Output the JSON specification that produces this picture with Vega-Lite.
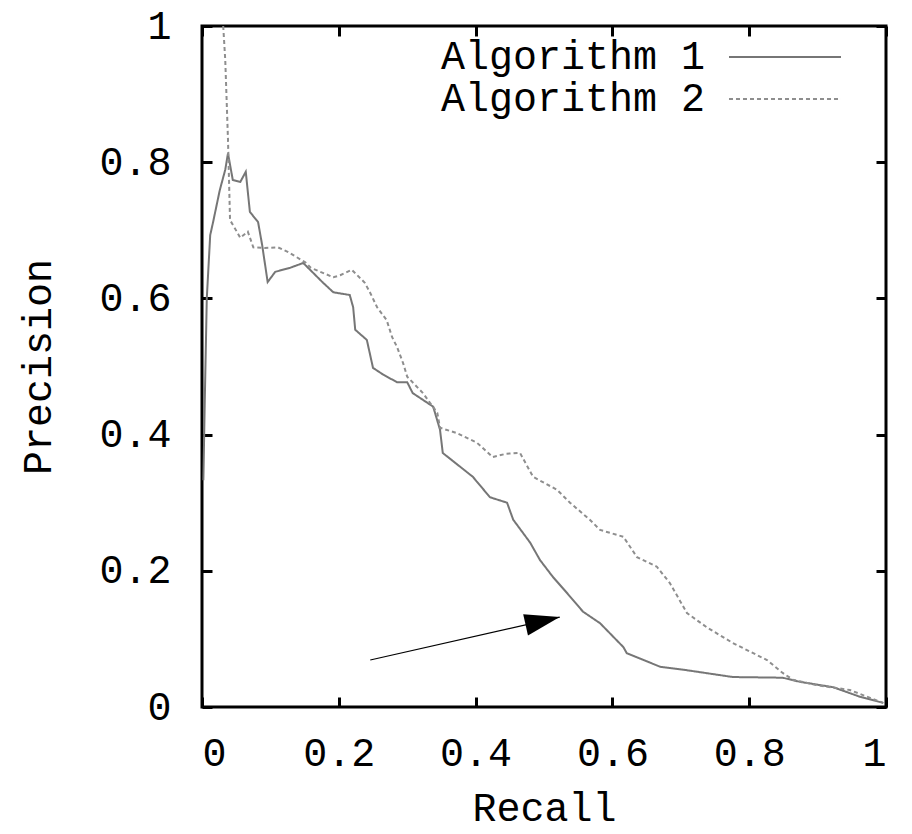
{
  "$schema": "https://vega.github.io/schema/vega-lite/v6.json",
  "width": 684,
  "height": 681,
  "autosize": {"type": "none"},
  "padding": {"left": 202, "top": 26, "right": 26, "bottom": 127},
  "background": "white",
  "config": {
    "view": {"stroke": "black", "strokeWidth": 3},
    "font": "Liberation Mono",
    "axis": {
      "domain": false,
      "grid": false,
      "ticks": true,
      "tickSize": -10,
      "tickWidth": 3,
      "tickColor": "black",
      "labelFont": "Liberation Mono",
      "labelFontSize": 40,
      "labelColor": "black",
      "titleFont": "Liberation Mono",
      "titleFontSize": 40,
      "titleFontWeight": "normal",
      "titleColor": "black"
    },
    "legend": {
      "orient": "none",
      "legendX": 563,
      "legendY": 11,
      "padding": 0,
      "title": null,
      "symbolType": "M -3 0 L 3 0",
      "symbolSize": 1394,
      "symbolStrokeWidth": 2,
      "labelFont": "Liberation Mono",
      "labelFontSize": 40,
      "labelColor": "black",
      "labelAlign": "right",
      "labelOffset": -100,
      "labelLimit": 0,
      "rowPadding": 2
    }
  },
  "datasets": {
    "curves": [
      {"recall": 0.002, "precision": 0.333, "algorithm": "Algorithm 1"},
      {"recall": 0.004, "precision": 0.446, "algorithm": "Algorithm 1"},
      {"recall": 0.007, "precision": 0.600, "algorithm": "Algorithm 1"},
      {"recall": 0.012, "precision": 0.693, "algorithm": "Algorithm 1"},
      {"recall": 0.016, "precision": 0.711, "algorithm": "Algorithm 1"},
      {"recall": 0.026, "precision": 0.759, "algorithm": "Algorithm 1"},
      {"recall": 0.034, "precision": 0.789, "algorithm": "Algorithm 1"},
      {"recall": 0.038, "precision": 0.813, "algorithm": "Algorithm 1"},
      {"recall": 0.045, "precision": 0.774, "algorithm": "Algorithm 1"},
      {"recall": 0.056, "precision": 0.771, "algorithm": "Algorithm 1"},
      {"recall": 0.064, "precision": 0.786, "algorithm": "Algorithm 1"},
      {"recall": 0.070, "precision": 0.727, "algorithm": "Algorithm 1"},
      {"recall": 0.082, "precision": 0.712, "algorithm": "Algorithm 1"},
      {"recall": 0.088, "precision": 0.678, "algorithm": "Algorithm 1"},
      {"recall": 0.096, "precision": 0.624, "algorithm": "Algorithm 1"},
      {"recall": 0.107, "precision": 0.639, "algorithm": "Algorithm 1"},
      {"recall": 0.129, "precision": 0.645, "algorithm": "Algorithm 1"},
      {"recall": 0.148, "precision": 0.652, "algorithm": "Algorithm 1"},
      {"recall": 0.177, "precision": 0.623, "algorithm": "Algorithm 1"},
      {"recall": 0.192, "precision": 0.609, "algorithm": "Algorithm 1"},
      {"recall": 0.216, "precision": 0.605, "algorithm": "Algorithm 1"},
      {"recall": 0.221, "precision": 0.587, "algorithm": "Algorithm 1"},
      {"recall": 0.224, "precision": 0.554, "algorithm": "Algorithm 1"},
      {"recall": 0.241, "precision": 0.539, "algorithm": "Algorithm 1"},
      {"recall": 0.250, "precision": 0.498, "algorithm": "Algorithm 1"},
      {"recall": 0.265, "precision": 0.488, "algorithm": "Algorithm 1"},
      {"recall": 0.285, "precision": 0.477, "algorithm": "Algorithm 1"},
      {"recall": 0.300, "precision": 0.477, "algorithm": "Algorithm 1"},
      {"recall": 0.308, "precision": 0.461, "algorithm": "Algorithm 1"},
      {"recall": 0.338, "precision": 0.441, "algorithm": "Algorithm 1"},
      {"recall": 0.348, "precision": 0.407, "algorithm": "Algorithm 1"},
      {"recall": 0.352, "precision": 0.373, "algorithm": "Algorithm 1"},
      {"recall": 0.396, "precision": 0.338, "algorithm": "Algorithm 1"},
      {"recall": 0.421, "precision": 0.308, "algorithm": "Algorithm 1"},
      {"recall": 0.446, "precision": 0.300, "algorithm": "Algorithm 1"},
      {"recall": 0.455, "precision": 0.275, "algorithm": "Algorithm 1"},
      {"recall": 0.469, "precision": 0.256, "algorithm": "Algorithm 1"},
      {"recall": 0.480, "precision": 0.241, "algorithm": "Algorithm 1"},
      {"recall": 0.494, "precision": 0.216, "algorithm": "Algorithm 1"},
      {"recall": 0.513, "precision": 0.191, "algorithm": "Algorithm 1"},
      {"recall": 0.534, "precision": 0.167, "algorithm": "Algorithm 1"},
      {"recall": 0.557, "precision": 0.140, "algorithm": "Algorithm 1"},
      {"recall": 0.582, "precision": 0.123, "algorithm": "Algorithm 1"},
      {"recall": 0.616, "precision": 0.088, "algorithm": "Algorithm 1"},
      {"recall": 0.621, "precision": 0.079, "algorithm": "Algorithm 1"},
      {"recall": 0.670, "precision": 0.059, "algorithm": "Algorithm 1"},
      {"recall": 0.709, "precision": 0.054, "algorithm": "Algorithm 1"},
      {"recall": 0.776, "precision": 0.044, "algorithm": "Algorithm 1"},
      {"recall": 0.849, "precision": 0.043, "algorithm": "Algorithm 1"},
      {"recall": 0.874, "precision": 0.037, "algorithm": "Algorithm 1"},
      {"recall": 0.923, "precision": 0.029, "algorithm": "Algorithm 1"},
      {"recall": 0.962, "precision": 0.015, "algorithm": "Algorithm 1"},
      {"recall": 0.996, "precision": 0.006, "algorithm": "Algorithm 1"},
      {"recall": 0.031, "precision": 1.000, "algorithm": "Algorithm 2"},
      {"recall": 0.034, "precision": 0.950, "algorithm": "Algorithm 2"},
      {"recall": 0.038, "precision": 0.833, "algorithm": "Algorithm 2"},
      {"recall": 0.041, "precision": 0.715, "algorithm": "Algorithm 2"},
      {"recall": 0.048, "precision": 0.703, "algorithm": "Algorithm 2"},
      {"recall": 0.056, "precision": 0.689, "algorithm": "Algorithm 2"},
      {"recall": 0.067, "precision": 0.698, "algorithm": "Algorithm 2"},
      {"recall": 0.075, "precision": 0.675, "algorithm": "Algorithm 2"},
      {"recall": 0.092, "precision": 0.674, "algorithm": "Algorithm 2"},
      {"recall": 0.111, "precision": 0.675, "algorithm": "Algorithm 2"},
      {"recall": 0.126, "precision": 0.668, "algorithm": "Algorithm 2"},
      {"recall": 0.151, "precision": 0.653, "algorithm": "Algorithm 2"},
      {"recall": 0.159, "precision": 0.645, "algorithm": "Algorithm 2"},
      {"recall": 0.192, "precision": 0.631, "algorithm": "Algorithm 2"},
      {"recall": 0.202, "precision": 0.634, "algorithm": "Algorithm 2"},
      {"recall": 0.219, "precision": 0.642, "algorithm": "Algorithm 2"},
      {"recall": 0.238, "precision": 0.623, "algorithm": "Algorithm 2"},
      {"recall": 0.246, "precision": 0.608, "algorithm": "Algorithm 2"},
      {"recall": 0.256, "precision": 0.587, "algorithm": "Algorithm 2"},
      {"recall": 0.270, "precision": 0.568, "algorithm": "Algorithm 2"},
      {"recall": 0.278, "precision": 0.543, "algorithm": "Algorithm 2"},
      {"recall": 0.285, "precision": 0.529, "algorithm": "Algorithm 2"},
      {"recall": 0.294, "precision": 0.505, "algorithm": "Algorithm 2"},
      {"recall": 0.300, "precision": 0.485, "algorithm": "Algorithm 2"},
      {"recall": 0.323, "precision": 0.461, "algorithm": "Algorithm 2"},
      {"recall": 0.344, "precision": 0.432, "algorithm": "Algorithm 2"},
      {"recall": 0.348, "precision": 0.410, "algorithm": "Algorithm 2"},
      {"recall": 0.373, "precision": 0.402, "algorithm": "Algorithm 2"},
      {"recall": 0.402, "precision": 0.388, "algorithm": "Algorithm 2"},
      {"recall": 0.425, "precision": 0.367, "algorithm": "Algorithm 2"},
      {"recall": 0.445, "precision": 0.372, "algorithm": "Algorithm 2"},
      {"recall": 0.465, "precision": 0.373, "algorithm": "Algorithm 2"},
      {"recall": 0.484, "precision": 0.338, "algorithm": "Algorithm 2"},
      {"recall": 0.519, "precision": 0.319, "algorithm": "Algorithm 2"},
      {"recall": 0.538, "precision": 0.300, "algorithm": "Algorithm 2"},
      {"recall": 0.567, "precision": 0.275, "algorithm": "Algorithm 2"},
      {"recall": 0.582, "precision": 0.260, "algorithm": "Algorithm 2"},
      {"recall": 0.616, "precision": 0.250, "algorithm": "Algorithm 2"},
      {"recall": 0.636, "precision": 0.220, "algorithm": "Algorithm 2"},
      {"recall": 0.665, "precision": 0.206, "algorithm": "Algorithm 2"},
      {"recall": 0.684, "precision": 0.182, "algorithm": "Algorithm 2"},
      {"recall": 0.709, "precision": 0.138, "algorithm": "Algorithm 2"},
      {"recall": 0.738, "precision": 0.117, "algorithm": "Algorithm 2"},
      {"recall": 0.776, "precision": 0.094, "algorithm": "Algorithm 2"},
      {"recall": 0.826, "precision": 0.069, "algorithm": "Algorithm 2"},
      {"recall": 0.849, "precision": 0.050, "algorithm": "Algorithm 2"},
      {"recall": 0.864, "precision": 0.040, "algorithm": "Algorithm 2"},
      {"recall": 0.899, "precision": 0.032, "algorithm": "Algorithm 2"},
      {"recall": 0.947, "precision": 0.025, "algorithm": "Algorithm 2"},
      {"recall": 0.996, "precision": 0.006, "algorithm": "Algorithm 2"}
    ],
    "arrow": [
      {"recall": 0.246, "precision": 0.069, "recall_end": 0.523, "precision_end": 0.132}
    ]
  },
  "layer": [
    {
      "data": {"name": "curves"},
      "mark": {"type": "line", "strokeWidth": 2},
      "encoding": {
        "x": {
          "field": "recall", "type": "quantitative",
          "scale": {"domain": [0, 1], "nice": false, "zero": false},
          "axis": {"orient": "bottom", "values": [0, 0.2, 0.4, 0.6, 0.8, 1], "title": "Recall", "labelPadding": 36, "labelDx": 4, "titlePadding": 15, "format": "~g"}
        },
        "y": {
          "field": "precision", "type": "quantitative",
          "scale": {"domain": [0, 1], "nice": false, "zero": false},
          "axis": {"orient": "left", "values": [0, 0.2, 0.4, 0.6, 0.8, 1], "title": "Precision", "labelPadding": 41, "titlePadding": 40, "format": "~g"}
        },
        "color": {
          "field": "algorithm", "type": "nominal",
          "scale": {"domain": ["Algorithm 1", "Algorithm 2"], "range": ["#767676", "#8e8e8e"]}
        },
        "strokeDash": {
          "field": "algorithm", "type": "nominal",
          "scale": {"domain": ["Algorithm 1", "Algorithm 2"], "range": [[1, 0], [4, 3]]}
        }
      }
    },
    {
      "data": {"name": "arrow"},
      "mark": {"type": "rule", "color": "black", "strokeWidth": 1.2},
      "encoding": {
        "x": {"field": "recall", "type": "quantitative", "axis": {"orient": "top", "values": [0, 0.2, 0.4, 0.6, 0.8, 1], "labels": false, "title": null}},
        "y": {"field": "precision", "type": "quantitative", "axis": {"orient": "right", "values": [0, 0.2, 0.4, 0.6, 0.8, 1], "labels": false, "title": null}},
        "x2": {"field": "recall_end"},
        "y2": {"field": "precision_end"}
      }
    },
    {
      "data": {"name": "arrow"},
      "mark": {"type": "point", "shape": "M 0 0 L -1 -0.31 L -1 0.31 Z", "size": 4900, "filled": true, "color": "black", "opacity": 1, "angle": 347.3, "strokeWidth": 0},
      "encoding": {
        "x": {"field": "recall_end", "type": "quantitative", "axis": null},
        "y": {"field": "precision_end", "type": "quantitative", "axis": null}
      }
    }
  ],
  "resolve": {"axis": {"x": "independent", "y": "independent"}}
}
